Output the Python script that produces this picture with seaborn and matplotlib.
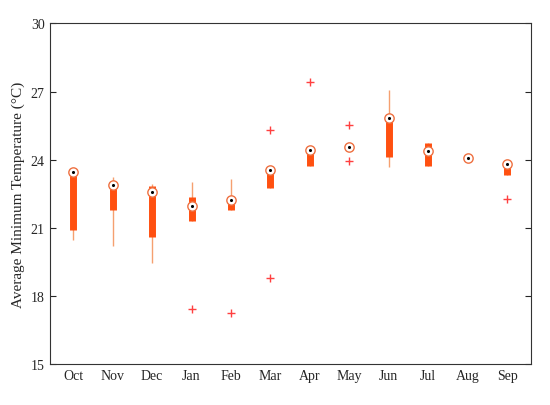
import matplotlib
matplotlib.use('Agg')
import matplotlib.pyplot as plt
import seaborn as sns
import pandas as pd

months = ['Oct', 'Nov', 'Dec', 'Jan', 'Feb', 'Mar', 'Apr', 'May', 'Jun', 'Jul', 'Aug', 'Sep']
wlo = [20.49, 20.2, 19.45, 21.32, 21.78, 22.78, 23.72, 24.56, 23.67, 23.72, 24.07, 23.33]
q1 = [20.89, 21.78, 20.6, 21.32, 21.78, 22.78, 23.72, 24.56, 24.14, 23.72, 24.07, 23.33]
med = [23.47, 22.9, 22.58, 21.98, 22.24, 23.57, 24.42, 24.56, 25.82, 24.39, 24.07, 23.81]
q3 = [23.47, 22.95, 22.85, 22.38, 22.24, 23.57, 24.42, 24.56, 25.82, 24.72, 24.07, 23.81]
whi = [23.47, 23.24, 22.95, 23.03, 23.17, 23.57, 24.42, 24.56, 27.09, 24.72, 24.07, 23.81]
out_month = ['Jan', 'Feb', 'Mar', 'Mar', 'Apr', 'May', 'May', 'Sep']
out_val = [17.43, 17.24, 25.32, 18.82, 27.43, 25.55, 23.96, 22.27]

sns.set_style('white')
plt.rcParams['font.family'] = ['Liberation Serif', 'DejaVu Serif']

fig, ax = plt.subplots(figsize=(5.5, 4.06), dpi=100)
fig.subplots_adjust(left=0.09, right=0.965, top=0.94, bottom=0.10)

pos = list(range(len(months)))
ax.vlines(pos, wlo, whi, color='#f5a070', lw=1)
ax.vlines(pos, q1, q3, color='#ff5010', lw=5)
stats = pd.DataFrame({'month': months, 'median': med})
sns.scatterplot(data=stats, x='month', y='median', ax=ax, s=45, facecolor='white',
                edgecolor='#ee7040', linewidth=1, zorder=3)
sns.scatterplot(data=stats, x='month', y='median', ax=ax, s=5, color='black',
                linewidth=0, zorder=4)
outs = pd.DataFrame({'month': out_month, 'val': out_val})
outs['x'] = [months.index(m) for m in out_month]
sns.scatterplot(data=outs, x='x', y='val', ax=ax, marker='+', s=30, color='#ff4040',
                linewidth=1, zorder=3)

ax.set_xticks(pos)
ax.set_xticklabels(months)
ax.set_xlim(-0.6, 11.6)
ax.set_ylim(15, 30)
ax.set_yticks([15, 18, 21, 24, 27, 30])
ax.set_xlabel('')
ax.set_ylabel('Average Minimum Temperature (°C)', fontsize=11)
ax.tick_params(direction='in', length=4, labelsize=10, top=False, right=True)
ax.yaxis.set_ticks_position('both')
for s in ax.spines.values():
    s.set_color('#333333')
    s.set_linewidth(0.8)

fig.savefig('out.png')
